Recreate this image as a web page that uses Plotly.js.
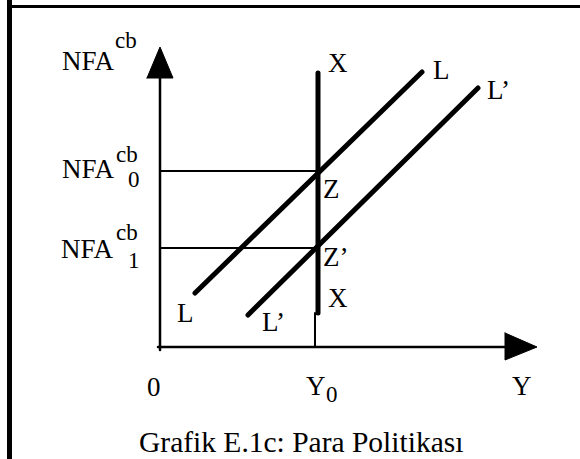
<!DOCTYPE html>
<html>
<head>
<meta charset="utf-8">
<script src="https://cdn.plot.ly/plotly-3.0.1.min.js"></script>
<style>
html,body{margin:0;padding:0;background:#fff;}
#chart{width:580px;height:459px;}
path.js-line{stroke-linecap:round !important;}
</style>
</head>
<body>
<div id="chart"></div>
<script>
// ---- Data (schematic units: origin at the axes' intersection) ----
const Y0 = 155;                 // output level Y0
const NFA0 = 176;               // NFA^cb_0
const NFA1 = 99;                // NFA^cb_1
const xLineX = [158, 158];      // X schedule (vertical)
const xLineY = [34, 274];
const curveLx = [35, 262];      // L schedule
const curveLy = [54, 275];
const curveL2x = [88, 318];     // L' schedule
const curveL2y = [32, 259];
const axisYtop = 269, axisXend = 345;
const arrowYx = [-13, 0, 13, -13], arrowYy = [269, 300, 269, 269];
const arrowXx = [345, 377, 345, 345], arrowXy = [14, 0, -13, 14];

const FONT = "'Liberation Serif', 'Times New Roman', serif";
const K = '#000';

function line(x, y, w) {
  return {x: x, y: y, mode: 'lines', type: 'scatter', hoverinfo: 'skip',
          line: {color: K, width: w}};
}
const traces = [
  line([0, 0], [-3, axisYtop], 2.5),
  line([-2, axisXend], [0, 0], 2.5),
  line([0, xLineX[0]], [NFA0, NFA0], 2),
  line([0, xLineX[0]], [NFA1, NFA1], 2),
  line([Y0, Y0], [0, xLineY[0]], 2),
  line(xLineX, xLineY, 5),
  line(curveLx, curveLy, 5),
  line(curveL2x, curveL2y, 5),
  {x: arrowYx, y: arrowYy, type: 'scatter', mode: 'lines', fill: 'toself',
   fillcolor: K, line: {color: K, width: 1}, hoverinfo: 'skip'},
  {x: arrowXx, y: arrowXy, type: 'scatter', mode: 'lines', fill: 'toself',
   fillcolor: K, line: {color: K, width: 1}, hoverinfo: 'skip'}
];

// label helper: px = left edge (pixel), py = vertical middle (pixel)
function lab(text, px, py, size, anchor) {
  return {text: text, x: px - 160, y: 347 - py, xref: 'x', yref: 'y',
          xanchor: anchor || 'left', yanchor: 'middle', showarrow: false,
          borderpad: 0, borderwidth: 0,
          font: {family: FONT, size: size, color: K}};
}
const S = 27, s = 23;
const annotations = [
  lab('NFA', 62, 60.8, S), lab('cb', 115, 40.2, s),
  lab('NFA', 62, 168.8, S), lab('cb', 116, 154.2, s), lab('0', 128, 179.2, s),
  lab('NFA', 61, 248.8, S), lab('cb', 116, 232.2, s), lab('1', 128, 260.2, s),
  lab('X', 328, 62.8, S),
  lab('L', 433, 69.8, S),
  lab('L’', 487, 89.8, S),
  lab('Z', 323, 188.8, S),
  lab('Z’', 323, 256.8, S),
  lab('X', 328, 297.8, S),
  lab('L', 177, 312.8, S),
  lab('L’', 262, 321.8, S),
  lab('0', 147, 386.8, S),
  lab('Y', 316, 385.8, S, 'center'),
  lab('0', 326, 394.2, s),
  lab('Y', 512, 385.8, S),
  lab('Grafik E.1c: Para Politikası', 139, 442, 29.5)
];

const layout = {
  width: 580, height: 459,
  margin: {l: 0, r: 0, t: 0, b: 0, pad: 0},
  paper_bgcolor: '#fff', plot_bgcolor: '#fff',
  showlegend: false,
  xaxis: {visible: false, range: [-160, 420], fixedrange: true},
  yaxis: {visible: false, range: [-112, 347], fixedrange: true},
  annotations: annotations,
  shapes: [
    {type: 'line', xref: 'paper', yref: 'paper', x0: 9.5/580, x1: 9.5/580, y0: 0, y1: 1,
     line: {color: K, width: 5}},
    {type: 'line', xref: 'paper', yref: 'paper', x0: 11/580, x1: 1, y0: 1 - 6.5/459, y1: 1 - 6.5/459,
     line: {color: K, width: 3}}
  ]
};
Plotly.newPlot('chart', traces, layout, {staticPlot: true, displayModeBar: false});
</script>
</body>
</html>
